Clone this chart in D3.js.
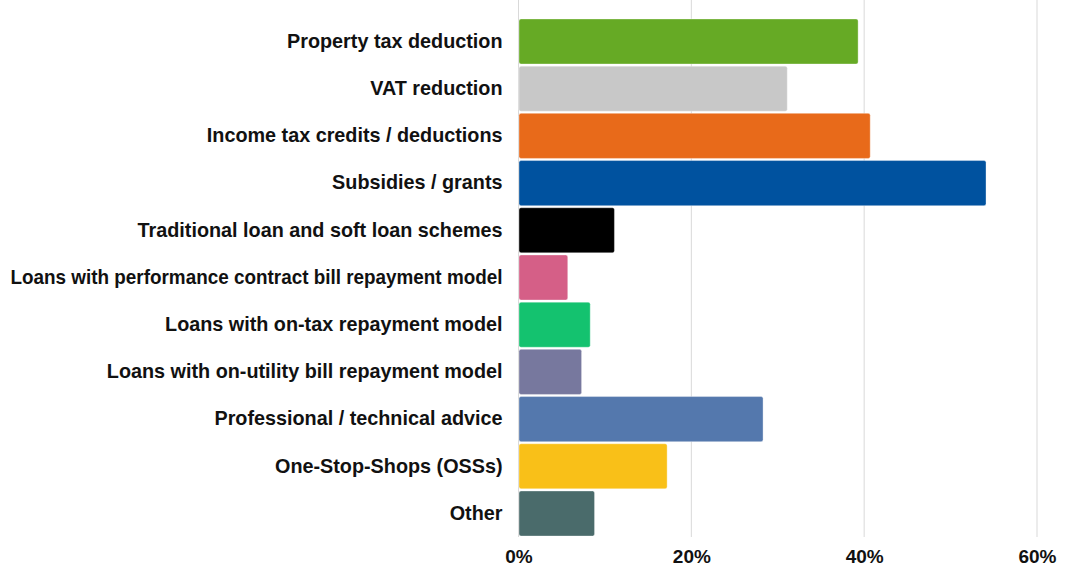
<!DOCTYPE html>
<html>
<head>
<meta charset="utf-8">
<script src="https://cdn.jsdelivr.net/npm/d3@7"></script>
<style>
  html, body { margin: 0; padding: 0; background: #fff; }
  svg { display: block; }
  text { font-family: "Liberation Sans", Arial, sans-serif; font-weight: bold; fill: #111; }
</style>
</head>
<body>
<svg id="chart" width="1067" height="588"></svg>
<script>
// Support measures (share of respondents, %)
const categories = [
  "Property tax deduction",
  "VAT reduction",
  "Income tax credits / deductions",
  "Subsidies / grants",
  "Traditional loan and soft loan schemes",
  "Loans with performance contract bill repayment model",
  "Loans with on-tax repayment model",
  "Loans with on-utility bill repayment model",
  "Professional / technical advice",
  "One-Stop-Shops (OSSs)",
  "Other"
];
const values = [39.3, 31.1, 40.7, 54.1, 11.1, 5.7, 8.3, 7.3, 28.3, 17.2, 8.8];
const colors = [
  "#66aa25", "#c8c8c8", "#e86a1a", "#00529f", "#000000", "#d55f87",
  "#14c26f", "#77789e", "#5478ad", "#f9c018", "#4a6b6b"
];
const tickValues = [0, 20, 40, 60];

const svg = d3.select("#chart");
const margin = { top: 18, right: 30, bottom: 51, left: 518.5 };
const height = 588 - margin.top - margin.bottom;
const labelRoom = 492;

const x = d3.scaleLinear().domain([0, 60]).range([0, 1037 - margin.left]);
const y = d3.scaleBand().domain(categories).range([0, height]).paddingInner(0.045).paddingOuter(0.02);

const g = svg.append("g").attr("transform", `translate(${margin.left},${margin.top})`);

// vertical gridlines
g.append("g")
  .selectAll("line")
  .data(tickValues)
  .join("line")
  .attr("x1", d => x(d)).attr("x2", d => x(d))
  .attr("y1", -18).attr("y2", height)
  .attr("stroke", "#d9d9d9").attr("stroke-width", 1);

// bars
g.append("g")
  .selectAll("rect")
  .data(categories)
  .join("rect")
  .attr("x", 0.5)
  .attr("y", d => y(d))
  .attr("width", (d, i) => x(values[i]) - 0.5)
  .attr("height", y.bandwidth())
  .attr("rx", 2).attr("ry", 2)
  .attr("fill", (d, i) => colors[i])
  .attr("stroke", "rgba(255,255,255,0.35)")
  .attr("stroke-width", 1);

// category axis
const yAxis = g.append("g").call(d3.axisLeft(y).tickSize(0).tickPadding(16));
yAxis.select(".domain").remove();
yAxis.selectAll("text")
  .attr("font-size", 19.8)
  .style("font-family", "Liberation Sans, Arial, sans-serif")
  .style("font-weight", "bold")
  .attr("fill", "#111")
  .each(function () {
    // squeeze labels that would run past the left edge
    if (this.getComputedTextLength() > labelRoom) {
      d3.select(this).attr("textLength", labelRoom).attr("lengthAdjust", "spacingAndGlyphs");
    }
  });

// value axis
const xAxis = g.append("g")
  .attr("transform", `translate(0,${height})`)
  .call(d3.axisBottom(x).tickValues(tickValues).tickFormat(d => d + "%").tickSize(0).tickPadding(13));
xAxis.select(".domain").remove();
xAxis.selectAll("text").attr("font-size", 19).style("font-family", "Liberation Sans, Arial, sans-serif").style("font-weight", "bold").attr("fill", "#111");
</script>
</body>
</html>
